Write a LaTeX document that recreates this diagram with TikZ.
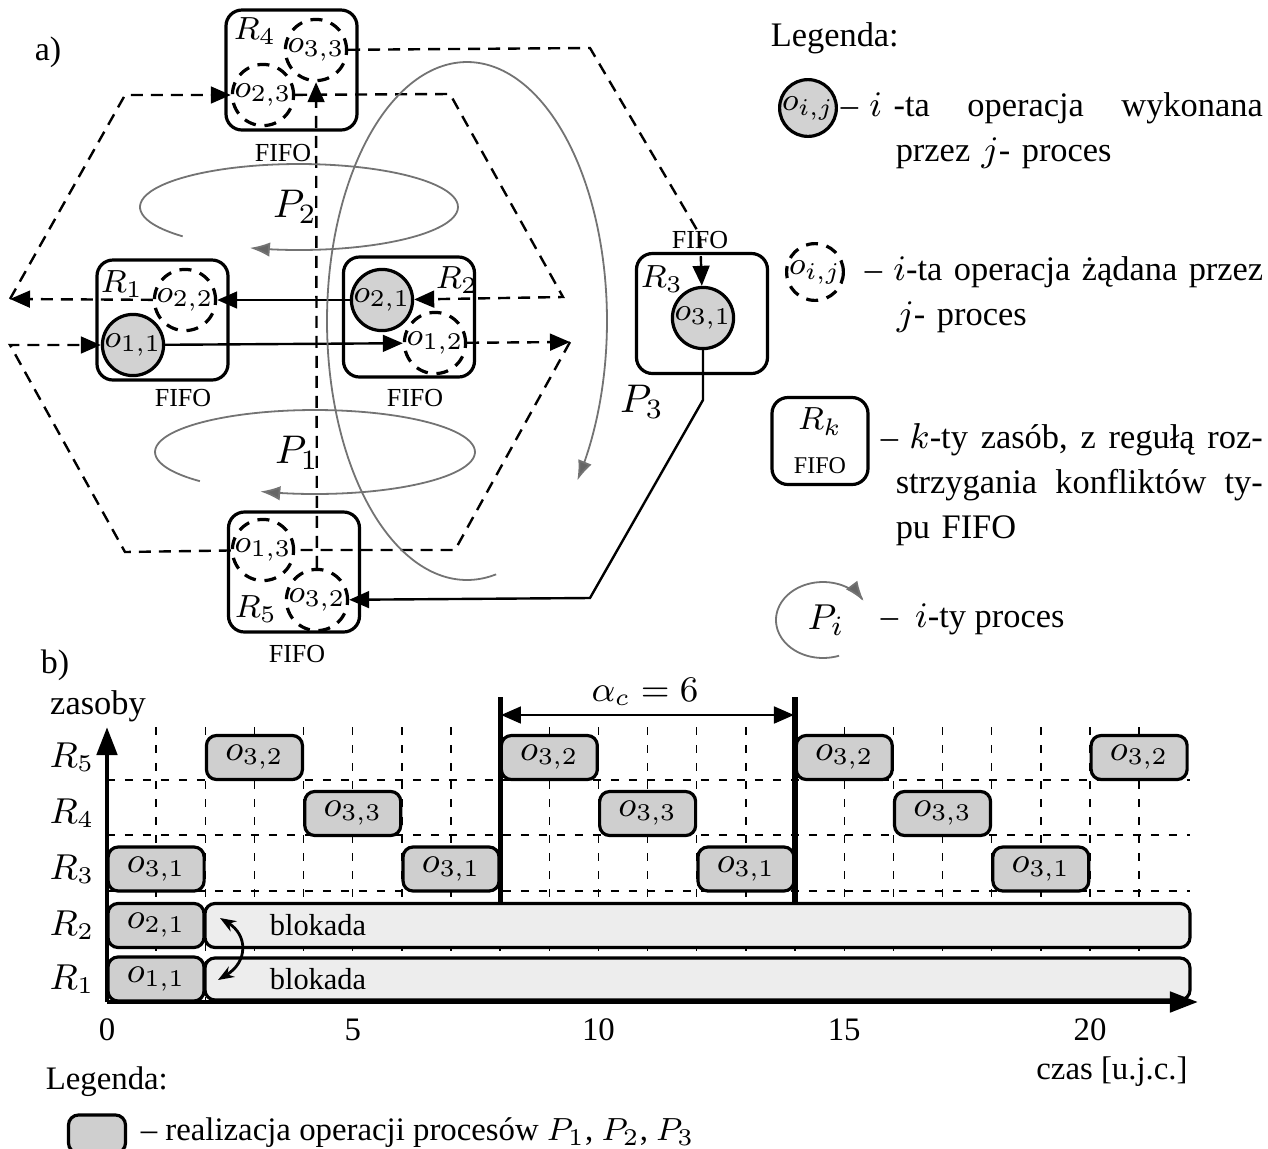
\documentclass[tikz,border=0pt]{standalone}
\usepackage{fontspec}
\setmainfont{Liberation Serif}
\usepackage{amsmath}
\usepackage{tikz}
\usetikzlibrary{arrows.meta,positioning,calc}

\newcommand{\fsz}[1]{\fontsize{#1}{#1}\selectfont}

\begin{document}
\begin{tikzpicture}[
    x=0.25pt, y=-0.25pt,
    >={Triangle[length=5pt,width=4.2pt]},
    lw/.style={line width=0.6pt},
    res/.style={draw, line width=0.8pt, rounded corners=4pt,
                minimum width=32.75pt, minimum height=30pt},
    opd/.style={circle, draw, line width=0.8pt, fill=gray!35,
                minimum size=14.5pt, inner sep=0pt, font=\fsz{8.3}},
    opr/.style={opd, fill=none, dash pattern=on 3pt off 2.2pt},
    fl/.style={line width=0.6pt, dash pattern=on 3pt off 2pt},
    pr/.style={draw=black!55, line width=0.45pt,
               -{Latex[length=5pt,width=3.6pt,fill=black!60]}},
    lab/.style={font=\fsz{8.5}, inner sep=0pt},
    fifo/.style={font=\fsz{6.5}, inner sep=0pt},
    bx/.style={draw, line width=0.8pt, rounded corners=2.5pt, fill=gray!38,
               minimum width=24pt, minimum height=11pt, inner sep=0pt,
               font=\fsz{9}},
    blk/.style={bx, fill=gray!14, minimum width=246.25pt},
    grd/.style={line width=0.35pt, dash pattern=on 2pt off 2.5pt},
    txt/.style={font=\fsz{8.2}, inner sep=0pt},
    leg/.style={font=\fontsize{8.6}{11.25}\selectfont, inner sep=0pt,
                anchor=base west, align=left}
]
\useasboundingbox (0,0) rectangle (1268,1149);

% a) -- graf procesow
\node[txt, font=\fsz{8.5}] (ta) at (48,52) {a)};

\node[res] (R4) at (291.5,70) {};
\node[res] (R1) at (162.5,320) {};
\node[res] (R2) at (409,317) {};
\node[res] (R3) at (702,313.5) {};
\node[res] (R5) at (294,572) {};
\node[lab] (lR4) at (255,31) {$R_4$};
\node[lab] (lR1) at (122,284) {$R_1$};
\node[lab] (lR2) at (457,280) {$R_2$};
\node[lab] (lR3) at (662,279) {$R_3$};
\node[lab] (lR5) at (256,609) {$R_5$};
\node[fifo] (f4) at (283,153) {FIFO};
\node[fifo] (f1) at (183,398) {FIFO};
\node[fifo] (f2) at (415,398) {FIFO};
\node[fifo] (f3) at (700,240) {FIFO};
\node[fifo] (f5) at (297,654) {FIFO};

\node[opr] (o33) at (316,50) {$o_{3,3}$};
\node[opr] (o23) at (263,95) {$o_{2,3}$};
\node[opr] (o22) at (185,300) {$o_{2,2}$};
\node[opd] (o11) at (133,345) {$o_{1,1}$};
\node[opd] (o21) at (382,300) {$o_{2,1}$};
\node[opr] (o12) at (435,343) {$o_{1,2}$};
\node[opd] (o31) at (703,318) {$o_{3,1}$};
\node[opr] (o13) at (263,550) {$o_{1,3}$};
\node[opr] (o32) at (317,600) {$o_{3,2}$};

\coordinate (p1r) at (570,342);
\coordinate (p1b) at (455,550);
\coordinate (p1c) at (125,552);
\coordinate (p1l) at (10,345);
\coordinate (p2l) at (10,299);
\coordinate (p2a) at (125,95);
\coordinate (p2b) at (450,94);
\coordinate (p2c) at (563,297);
\coordinate (p3a) at (703,400);
\coordinate (p3b) at (590,598);
\coordinate (p3c) at (590,48);
\coordinate (p3d) at (700,235);

% P1
\draw[lw,->] (o11) -- (o12);
\draw[fl,->] (o12) -- (p1r);
\draw[fl] (p1r) -- (p1b) -- (o13);
\draw[fl,->] (o13) -- (p1c) -- (p1l) -- (o11);
% P2
\draw[lw,->] (o21) -- (o22);
\draw[fl,->] (o22) -- (p2l);
\draw[fl,->] (p2l) -- (p2a) -- (o23);
\draw[fl,->] (o23) -- (p2b) -- (p2c) -- (o21);
% P3
\draw[lw,->] (o31) -- (p3a) -- (p3b) -- (o32);
\draw[fl,->] (o32) -- (o33);
\draw[fl,->] (o33) -- (p3c) -- (p3d) -- (o31);

% kierunki procesow
\draw[pr] plot[domain=137:468, samples=90, smooth] ({299+159*cos(\x)}, {207+43*sin(\x)});
\draw[pr] plot[domain=136:470, samples=90, smooth] ({315+160*cos(\x)}, {452+42*sin(\x)});
\draw[pr] plot[domain=78:398, samples=120, smooth] ({467+140*cos(\x)}, {321+259*sin(\x)});
\node[font=\fsz{10}] (lP2) at (295,207) {$P_2$};
\node[font=\fsz{10}] (lP1) at (297,453) {$P_1$};
\node[font=\fsz{10}] (lP3) at (642,402) {$P_3$};

% legenda a)
\node[txt, anchor=base west, font=\fsz{8.6}] (lg) at (770,46) {Legenda:};
\node[opd, minimum size=14pt] (lo1) at (808,108) {$o_{i,j}$};
\node[leg, text width=105.5pt] (lt1) at (840,116)
    {– $i$ -ta\hfill operacja\hfill wykonana\\\hspace*{13.75pt}przez $j$- proces};
\node[opr, minimum size=13.5pt] (lo2) at (815,272) {$o_{i,j}$};
\node[leg, text width=100pt] (lt2) at (864,280)
    {– $i$-ta operacja żądana przez\\\hspace*{8pt}$j$- proces};
\node[res, minimum width=24pt, minimum height=21.75pt, align=center,
      inner sep=0pt, font=\fsz{8.5}] (lR) at (820,441)
    {$R_k$\\[2.5pt]{\fsz{6}FIFO}};
\node[leg, text width=95.5pt] (lt3) at (880,448)
    {– $k$-ty\hfill zasób,\hfill z\hfill regułą\hfill roz-\\
     \hspace*{3.75pt}strzygania\hfill konfliktów\hfill ty-\\
     \hspace*{3.75pt}pu FIFO};
\draw[pr] plot[domain=70:330, samples=60, smooth] ({823+47*cos(\x)},{620+38*sin(\x)});
\node[font=\fsz{9.5}] (lPi) at (826,620) {$P_i$};
\node[font=\fsz{8.6}, inner sep=0pt, anchor=base west] (lt4) at (880,627) {–\enspace $i$-ty proces};

% b) -- harmonogram
\node[txt, font=\fsz{8.5}] (tb) at (55,665) {b)};
\node[txt, font=\fsz{8.6}] (zas) at (98,706) {zasoby};
\foreach \k/\yy in {5/757.5, 4/813.5, 3/869, 2/925.5, 1/979}
    \node[lab, font=\fsz{9}] (yR\k) at (72,\yy) {$R_\k$};

\foreach \t in {1,...,21}
    \draw[grd] ({107+49.15*\t},727) -- ({107+49.15*\t},1000);
\foreach \yy in {780,835,891}
    \draw[grd] (107,\yy) -- (1190,\yy);

\foreach \t/\n in {2/a,8/b,14/c,20/d}
    \node[bx] (o32\n) at ({107+49.15*(\t+1)},757.5) {$o_{3,2}$};
\foreach \t/\n in {4/a,10/b,16/c}
    \node[bx] (o33\n) at ({107+49.15*(\t+1)},813.5) {$o_{3,3}$};
\foreach \t/\n in {0/a,6/b,12/c,18/d}
    \node[bx] (o31\n) at ({107+49.15*(\t+1)},869) {$o_{3,1}$};
\node[bx] (o21a) at (156,925.5) {$o_{2,1}$};
\node[bx] (o11a) at (156,979) {$o_{1,1}$};
\node[blk] (bl2) at (697.5,925.5) {};
\node[blk, minimum height=10.5pt] (bl1) at (697.5,979) {};
\node[lab, font=\fsz{7.6}] (tb2) at (318,925.5) {blokada};
\node[lab, font=\fsz{7.6}] (tb1) at (318,979) {blokada};

% osie
\coordinate (org) at (107,1002);
\coordinate (ytop) at (107,727);
\coordinate (xend) at (1198,1002);
\draw[line width=1.2pt, -{Triangle[length=7pt,width=5pt]}] (org) -- (ytop);
\draw[line width=1.2pt, -{Triangle[length=7pt,width=5pt]}] (org) -- (xend);
\foreach \t in {0,5,10,15,20}
    \node[txt] (tk\t) at ({107+49.15*\t},1030) {\t};
\node[txt] (czas) at (1112,1072) {czas [u.j.c.]};

% cykl
\coordinate (c8a) at (500.2,697);
\coordinate (c8b) at (500.2,904);
\coordinate (c14a) at (795.1,697);
\coordinate (c14b) at (795.1,904);
\draw[line width=1.3pt] (c8a) -- (c8b);
\draw[line width=1.3pt] (c14a) -- (c14b);
\coordinate (ac1) at (501,715);
\coordinate (ac2) at (794,715);
\draw[lw,<->] (ac1) -- (ac2);
\node[txt, font=\fsz{8.8}] (acl) at (645,692) {$\alpha_c = 6$};

\coordinate (dl2) at (220,918);
\coordinate (dl1) at (218,980);
\draw[line width=0.7pt, {Stealth[length=4pt]}-{Stealth[length=4pt]}]
    (dl2) .. controls (248,935) and (248,962) .. (dl1);

% legenda b)
\node[txt, anchor=west] (lgb) at (45,1082) {Legenda:};
\node[bx, minimum width=14.25pt, minimum height=9.5pt] (lgbx) at (97,1134) {};
\node[txt, anchor=west] (lgt) at (140,1133) {– realizacja operacji procesów $P_1$, $P_2$, $P_3$};
\end{tikzpicture}
\end{document}
